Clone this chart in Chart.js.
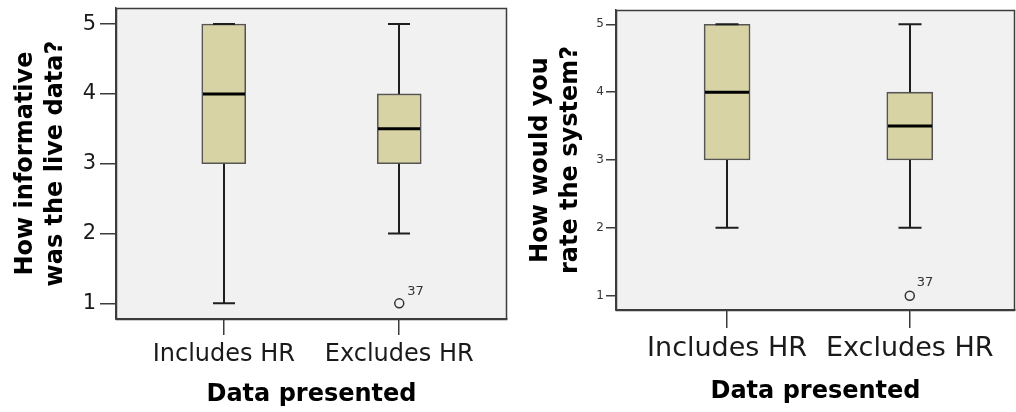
<!DOCTYPE html>
<html>
<head>
<meta charset="utf-8">
<script src="https://cdn.jsdelivr.net/npm/chart.js@4/dist/chart.umd.min.js"></script>
<style>
  html, body { margin: 0; padding: 0; background: #ffffff; }
  #wrap { position: relative; width: 1016px; height: 412px; }
  .panel { position: absolute; top: 0; width: 508px; height: 412px; }
</style>
</head>
<body>
<div id="wrap">
  <div class="panel" style="left:0"><canvas id="c1" width="508" height="412"></canvas></div>
  <div class="panel" style="left:508px"><canvas id="c2" width="508" height="412"></canvas></div>
</div>
<script>
// Groups on the x axis and the rating scale on the y axis
const groups = ['Includes HR', 'Excludes HR'];
const ratingTicks = [1, 2, 3, 4, 5];

// "How informative was the live data?" - five-number summaries per group
const infoLow    = [1, 2];
const infoQ1     = [3, 3];
const infoMedian = [4, 3.5];
const infoQ3     = [5, 4];
const infoHigh   = [5, 5];
const infoOutlierGroup = [2];
const infoOutlierValue = [1];
const infoOutlierCase  = ['37'];

// "How would you rate the system?" - five-number summaries per group
const rateLow    = [2, 2];
const rateQ1     = [3, 3];
const rateMedian = [4, 3.5];
const rateQ3     = [5, 4];
const rateHigh   = [5, 5];
const rateOutlierGroup = [2];
const rateOutlierValue = [1];
const rateOutlierCase  = ['37'];

const BOX_FILL = '#d8d3a5';
const BOX_EDGE = '#555555';
const LINE = '#3c3c3c';
const PLOT_BG = '#f1f1f1';

// Draws the plot background, whiskers, caps, medians, frame and case labels
const boxPlotPlugin = {
  id: 'boxPlot',
  beforeDraw(chart) {
    const { ctx, chartArea: a } = chart;
    ctx.save();
    ctx.fillStyle = PLOT_BG;
    ctx.fillRect(a.left, a.top, a.right - a.left, a.bottom - a.top);
    ctx.restore();
  },
  afterDatasetsDraw(chart) {
    const o = chart.options.plugins.boxPlot;
    const { ctx, chartArea: a } = chart;
    const xs = chart.scales.x, ys = chart.scales.y;
    ctx.save();
    ctx.lineCap = 'butt';
    groups.forEach((g, i) => {
      const cx = Math.round(xs.getPixelForValue(i + 1));
      const yLow = ys.getPixelForValue(o.low[i]);
      const yQ1 = ys.getPixelForValue(o.q1[i]);
      const yQ3 = ys.getPixelForValue(o.q3[i]);
      const yHigh = ys.getPixelForValue(o.high[i]);
      const yMed = ys.getPixelForValue(o.median[i]);
      const hc = o.capWidth / 2;
      ctx.strokeStyle = '#1e1e1e';
      ctx.lineWidth = 2;
      ctx.beginPath();
      // whiskers
      ctx.moveTo(cx, yQ1); ctx.lineTo(cx, yLow);
      ctx.moveTo(cx, yQ3); ctx.lineTo(cx, yHigh);
      // caps
      ctx.moveTo(cx - hc, yLow); ctx.lineTo(cx + hc, yLow);
      ctx.moveTo(cx - hc, yHigh); ctx.lineTo(cx + hc, yHigh);
      ctx.stroke();
      // median
      const hb = o.boxWidth / 2;
      ctx.strokeStyle = '#000000';
      ctx.lineWidth = 3;
      ctx.beginPath();
      ctx.moveTo(cx - hb + 1, yMed); ctx.lineTo(cx + hb - 1, yMed);
      ctx.stroke();
    });
    // case labels next to outliers
    ctx.fillStyle = '#333333';
    ctx.font = o.caseFont;
    ctx.textAlign = 'left';
    ctx.textBaseline = 'middle';
    o.outlierGroup.forEach((gx, k) => {
      const px = xs.getPixelForValue(gx);
      const py = ys.getPixelForValue(o.outlierValue[k]);
      ctx.fillText(o.outlierCase[k], px + o.caseDx, py + o.caseDy);
    });
    // plot frame
    ctx.strokeStyle = LINE;
    ctx.lineWidth = 1.5;
    ctx.strokeRect(Math.round(a.left) + 0.5, Math.round(a.top) + 0.5,
                   Math.round(a.right - a.left) - 1, Math.round(a.bottom - a.top));
    ctx.restore();
  }
};

function makePanel(canvasId, p) {
  const boxData = groups.map((g, i) => ({ x: i + 1, y: [p.q1[i], p.q3[i]] }));
  const outlierData = p.outlierGroup.map((gx, k) => ({ x: gx, y: p.outlierValue[k] }));
  return new Chart(document.getElementById(canvasId), {
    type: 'bar',
    data: {
      datasets: [
        {
          type: 'bar',
          data: boxData,
          backgroundColor: BOX_FILL,
          borderColor: BOX_EDGE,
          borderWidth: 1.6,
          borderSkipped: false,
          barThickness: p.boxWidth
        },
        {
          type: 'scatter',
          data: outlierData,
          pointStyle: 'circle',
          pointRadius: p.outlierRadius,
          backgroundColor: 'rgba(0,0,0,0)',
          borderColor: '#333333',
          borderWidth: 1.5
        }
      ]
    },
    options: {
      responsive: false,
      animation: false,
      events: [],
      layout: { autoPadding: false, padding: { top: p.padTop, right: 1, left: 0, bottom: 0 } },
      plugins: {
        legend: { display: false },
        tooltip: { enabled: false },
        boxPlot: {
          low: p.low, q1: p.q1, median: p.median, q3: p.q3, high: p.high,
          boxWidth: p.boxWidth, capWidth: p.capWidth,
          outlierGroup: p.outlierGroup, outlierValue: p.outlierValue, outlierCase: p.outlierCase,
          caseFont: p.caseFont, caseDx: p.caseDx, caseDy: p.caseDy
        }
      },
      scales: {
        x: {
          type: 'linear',
          min: p.xMin,
          max: p.xMax,
          offset: false,
          afterBuildTicks: s => { s.ticks = groups.map((g, i) => ({ value: i + 1 })); },
          afterFit: s => {
            s.height = p.xAxisHeight;
            s.paddingLeft = 0; s.paddingRight = 0;
          },
          ticks: {
            callback: v => groups[v - 1],
            autoSkip: false,
            maxRotation: 0,
            padding: p.xTickPad,
            color: '#1a1a1a',
            font: { family: 'DejaVu Sans', size: p.xTickSize }
          },
          grid: {
            offset: false,
            drawOnChartArea: false,
            drawTicks: true,
            tickLength: p.xTickLen,
            color: LINE,
            lineWidth: 1.5
          },
          border: { display: true, color: LINE, width: 1.5 },
          title: {
            display: true,
            text: 'Data presented',
            color: '#000000',
            padding: { top: 0, bottom: p.xTitlePad },
            font: { family: 'DejaVu Sans', size: 24, weight: 'bold', lineHeight: 1.25 }
          }
        },
        y: {
          type: 'linear',
          min: p.yMin,
          max: p.yMax,
          afterBuildTicks: s => { s.ticks = ratingTicks.map(v => ({ value: v })); },
          afterFit: s => {
            s.width = p.yAxisWidth;
            s.paddingTop = 0; s.paddingBottom = 0;
          },
          ticks: {
            padding: p.yTickPad,
            color: p.yTickColor,
            font: { family: 'DejaVu Sans', size: p.yTickSize }
          },
          grid: {
            drawOnChartArea: false,
            drawTicks: true,
            tickLength: p.yTickLen,
            color: LINE,
            lineWidth: 1.5
          },
          border: { display: true, color: LINE, width: 1.5 },
          title: {
            display: true,
            text: p.title,
            color: '#000000',
            padding: { top: p.yTitlePad, bottom: 0 },
            font: { family: 'DejaVu Sans', size: 24, weight: 'bold', lineHeight: 1.25 }
          }
        }
      }
    },
    plugins: [boxPlotPlugin]
  });
}

makePanel('c1', {
  title: ['How informative', 'was the live data?'],
  low: infoLow, q1: infoQ1, median: infoMedian, q3: infoQ3, high: infoHigh,
  outlierGroup: infoOutlierGroup, outlierValue: infoOutlierValue, outlierCase: infoOutlierCase,
  xMin: 0.386, xMax: 2.614, yMin: 0.776, yMax: 5.23,
  padTop: 8, xAxisHeight: 93, yAxisWidth: 116,
  boxWidth: 44, capWidth: 22, outlierRadius: 4.5,
  xTickSize: 24, xTickLen: 16, xTickPad: 5, xTitlePad: 2,
  yTickSize: 21, yTickLen: 16, yTickPad: 4, yTickColor: '#1a1a1a', yTitlePad: 11,
  caseFont: '13px "DejaVu Sans"', caseDx: 8, caseDy: -12
});

makePanel('c2', {
  title: ['How would you', 'rate the system?'],
  low: rateLow, q1: rateQ1, median: rateMedian, q3: rateQ3, high: rateHigh,
  outlierGroup: rateOutlierGroup, outlierValue: rateOutlierValue, outlierCase: rateOutlierCase,
  xMin: 0.392, xMax: 2.576, yMin: 0.79, yMax: 5.21,
  padTop: 10, xAxisHeight: 102, yAxisWidth: 108,
  boxWidth: 46, capWidth: 23, outlierRadius: 4.5,
  xTickSize: 27, xTickLen: 18, xTickPad: 5, xTitlePad: 5,
  yTickSize: 12, yTickLen: 10, yTickPad: 2, yTickColor: '#333333', yTitlePad: 18,
  caseFont: '13px "DejaVu Sans"', caseDx: 7, caseDy: -13
});
</script>
</body>
</html>
